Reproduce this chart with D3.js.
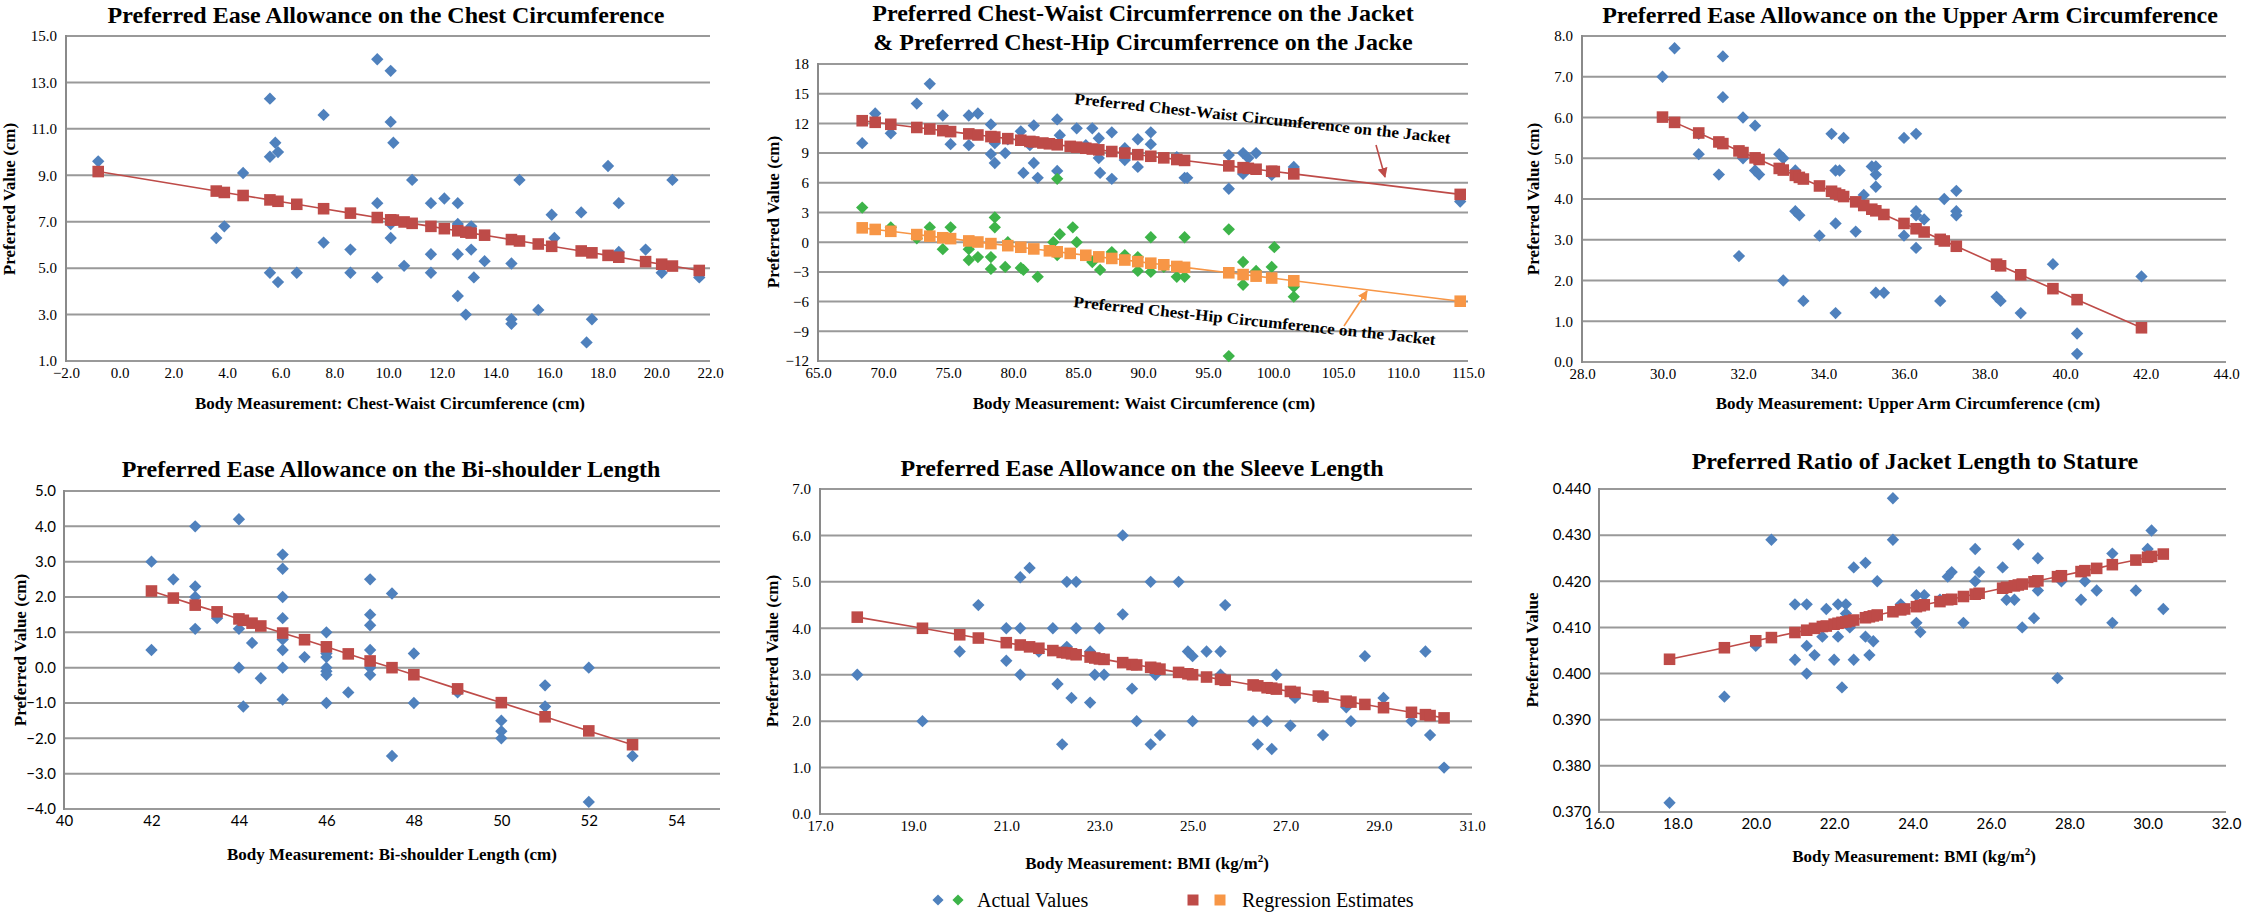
<!DOCTYPE html>
<html><head><meta charset="utf-8">
<script src="https://cdn.jsdelivr.net/npm/d3@7"></script>
<style>body{margin:0;background:#fff}</style>
</head><body><svg id="c" width="2244" height="912"></svg>
<script>
// ---------- DATA ----------
// Panel 1: chest-waist circumference vs preferred chest ease
const p1Actual = [[-0.8,9.6],[3.6,6.3],[3.9,6.8],[4.6,9.1],[5.6,12.3],[5.6,9.8],[5.6,4.8],[5.8,10.4],[5.9,10.0],[5.9,4.4],[6.6,4.8],[7.6,11.6],[7.6,6.1],[8.6,5.8],[8.6,4.8],[9.6,14.0],[9.6,7.8],[9.6,4.6],[10.1,13.5],[10.1,11.3],[10.2,10.4],[10.1,6.3],[10.1,6.9],[10.6,5.1],[10.9,8.8],[11.6,7.8],[11.6,5.6],[11.6,4.8],[12.1,8.0],[12.6,7.8],[12.6,6.9],[12.6,5.6],[12.6,3.8],[12.9,3.0],[13.1,6.8],[13.1,5.8],[13.2,4.6],[13.6,5.3],[14.6,5.2],[14.6,2.8],[14.6,2.6],[14.9,8.8],[15.6,3.2],[16.1,7.3],[16.2,6.3],[17.2,7.4],[17.4,1.8],[17.6,2.8],[18.2,9.4],[18.6,7.8],[18.6,5.7],[19.6,5.8],[20.2,4.8],[20.6,8.8],[21.6,4.6]];
const p1Reg = [[-0.8,9.16],[3.6,8.32],[3.9,8.26],[4.6,8.13],[5.6,7.94],[5.9,7.88],[6.6,7.75],[7.6,7.56],[8.6,7.37],[9.6,7.18],[10.1,7.08],[10.2,7.07],[10.6,6.99],[10.9,6.93],[11.6,6.80],[12.1,6.70],[12.6,6.61],[12.9,6.55],[13.1,6.51],[13.6,6.42],[14.6,6.23],[14.9,6.17],[15.6,6.04],[16.1,5.94],[17.2,5.74],[17.6,5.66],[18.2,5.55],[18.6,5.47],[19.6,5.28],[20.2,5.17],[20.6,5.09],[21.6,4.90]];
const p1XTicks = [-2,0,2,4,6,8,10,12,14,16,18,20,22];
const p1YTicks = [1,3,5,7,9,11,13,15];

// Panel 2: waist circumference vs chest-waist (blue/red) and chest-hip (green/orange)
const p2WaistActual = [[68.4,10.0],[69.4,13.0],[70.6,11.0],[72.6,14.0],[73.6,16.0],[74.6,12.8],[75.2,9.9],[76.6,12.8],[76.6,9.8],[77.3,13.0],[78.3,11.9],[78.3,8.9],[78.6,8.0],[78.6,10.0],[79.4,9.0],[79.6,10.4],[80.6,11.2],[80.8,7.0],[81.3,9.8],[81.6,11.8],[81.6,8.0],[81.9,6.5],[83.4,12.4],[83.4,7.2],[83.6,10.8],[84.9,11.5],[85.6,9.8],[86.1,11.5],[86.6,10.5],[86.6,8.5],[86.7,7.0],[87.6,11.1],[87.6,6.4],[88.6,8.3],[88.6,9.5],[89.6,10.4],[89.6,7.6],[90.6,11.1],[90.6,9.9],[92.6,8.6],[93.2,6.5],[93.4,6.5],[96.6,8.8],[96.6,5.4],[97.7,9.0],[97.7,6.9],[98.1,8.5],[98.7,9.0],[99.9,6.8],[101.6,7.6],[114.4,4.1]];
const p2WaistReg = [[68.4,12.27],[69.4,12.11],[70.6,11.91],[72.6,11.59],[73.6,11.43],[74.6,11.27],[75.2,11.17],[76.6,10.94],[77.3,10.83],[78.3,10.67],[78.6,10.62],[79.6,10.46],[80.6,10.30],[81.3,10.18],[81.6,10.13],[82.3,10.02],[82.8,9.94],[83.4,9.84],[84.4,9.68],[84.9,9.60],[85.6,9.49],[86.1,9.41],[86.6,9.33],[87.6,9.16],[88.6,9.00],[89.6,8.84],[90.6,8.68],[91.6,8.52],[92.6,8.35],[93.2,8.26],[96.6,7.71],[97.7,7.53],[98.1,7.46],[98.7,7.37],[99.9,7.17],[100.1,7.14],[101.6,6.90],[114.4,4.83]];
const p2HipActual = [[68.4,3.5],[70.6,1.5],[72.6,0.4],[73.6,1.5],[74.6,-0.7],[75.2,1.5],[76.6,-0.7],[76.6,-1.8],[77.3,-1.5],[78.3,-1.5],[78.3,-2.7],[78.6,2.5],[78.6,1.5],[79.4,-2.5],[79.6,0.0],[80.6,-2.6],[80.8,-2.8],[81.9,-3.5],[83.1,0.0],[83.4,6.4],[83.4,-1.3],[83.6,0.8],[84.6,1.5],[84.9,0.0],[86.1,-2.0],[86.7,-2.8],[87.6,-1.0],[88.6,-1.3],[89.6,-1.5],[89.6,-2.9],[90.6,-3.0],[90.6,0.5],[91.6,-2.5],[92.6,-3.5],[93.2,0.5],[93.2,-3.5],[96.6,1.3],[96.6,-11.5],[97.7,-2.0],[97.7,-4.3],[98.7,-2.9],[99.9,-2.5],[100.1,-0.5],[101.6,-4.5],[101.6,-5.5]];
const p2HipReg = [[68.4,1.45],[69.4,1.29],[70.6,1.10],[72.6,0.77],[73.6,0.61],[74.6,0.45],[75.2,0.36],[76.6,0.13],[77.3,0.02],[78.3,-0.14],[79.6,-0.35],[80.6,-0.51],[81.6,-0.68],[82.8,-0.87],[83.4,-0.97],[84.4,-1.13],[85.6,-1.32],[86.6,-1.48],[87.6,-1.64],[88.6,-1.80],[89.6,-1.96],[90.6,-2.12],[91.6,-2.28],[92.6,-2.45],[93.2,-2.54],[96.6,-3.09],[97.7,-3.27],[98.7,-3.43],[99.9,-3.62],[101.6,-3.90],[114.4,-5.96]];
const p2XTicks = [65,70,75,80,85,90,95,100,105,110,115];
const p2YTicks = [-12,-9,-6,-3,0,3,6,9,12,15,18];

// Panel 3: upper arm circumference
const p3Actual = [[30.0,7.0],[30.3,7.7],[30.9,5.1],[30.9,5.6],[31.4,4.6],[31.5,7.5],[31.5,6.5],[31.9,2.6],[32.0,6.0],[32.0,5.0],[32.3,5.8],[32.3,4.7],[32.4,4.6],[32.9,5.1],[33.0,5.0],[33.0,2.0],[33.3,4.7],[33.3,3.7],[33.4,3.6],[33.5,1.5],[33.9,3.1],[34.2,5.6],[34.3,4.7],[34.3,3.4],[34.3,1.2],[34.4,4.7],[34.5,5.5],[34.8,3.2],[35.0,4.1],[35.2,4.8],[35.3,4.8],[35.3,4.6],[35.3,4.3],[35.3,1.7],[35.5,1.7],[36.0,5.5],[36.0,3.1],[36.3,5.6],[36.3,3.7],[36.3,3.6],[36.3,2.8],[36.5,3.5],[36.9,1.5],[37.0,4.0],[37.3,4.2],[37.3,3.7],[37.3,3.6],[38.3,1.6],[38.4,1.5],[38.9,1.2],[39.7,2.4],[40.3,0.7],[40.3,0.2],[41.9,2.1]];
const p3Reg = [[30.0,6.01],[30.3,5.88],[30.9,5.62],[31.4,5.40],[31.5,5.36],[31.9,5.18],[32.0,5.14],[32.3,5.01],[32.4,4.97],[32.9,4.75],[33.0,4.71],[33.3,4.58],[33.4,4.53],[33.5,4.49],[33.9,4.32],[34.2,4.19],[34.3,4.14],[34.4,4.10],[34.5,4.06],[34.8,3.93],[35.0,3.84],[35.2,3.75],[35.3,3.71],[35.5,3.62],[36.0,3.40],[36.3,3.27],[36.5,3.19],[36.9,3.01],[37.0,2.97],[37.3,2.84],[38.3,2.40],[38.4,2.36],[38.9,2.14],[39.7,1.80],[40.3,1.53],[41.9,0.84]];
const p3XTicks = [28,30,32,34,36,38,40,42,44];
const p3YTicks = [0,1,2,3,4,5,6,7,8];

// Panel 4: bi-shoulder length
const p4Actual = [[42,3.0],[42,0.5],[42.5,2.5],[43,4.0],[43,2.3],[43,2.0],[43,1.1],[43.5,1.4],[44,4.2],[44,1.1],[44,0.0],[44.1,-1.1],[44.3,0.7],[44.5,-0.3],[45,3.2],[45,2.8],[45,2.0],[45,1.4],[45,0.8],[45,0.5],[45,0.0],[45,-0.9],[45.5,0.3],[46,1.0],[46,0.4],[46,0.3],[46,0.0],[46,-0.1],[46,-0.2],[46,-1.0],[46.5,-0.7],[47,2.5],[47,1.5],[47,1.2],[47,0.5],[47,0.0],[47,-0.2],[47.5,2.1],[47.5,-2.5],[48,0.4],[48,-1.0],[49,-0.7],[50,-1.5],[50,-1.8],[50,-2.0],[51,-0.5],[51,-1.1],[52,0.0],[52,-3.8],[53,-2.5]];
const p4Reg = [[42,2.17],[42.5,1.97],[43,1.77],[43.5,1.58],[44,1.38],[44.1,1.34],[44.3,1.26],[44.5,1.18],[45,0.98],[45.5,0.79],[46,0.59],[46.5,0.39],[47,0.19],[47.5,0.00],[48,-0.20],[49,-0.60],[50,-0.99],[51,-1.39],[52,-1.79],[53,-2.18]];
const p4XTicks = [40,42,44,46,48,50,52,54];
const p4YTicks = [-4,-3,-2,-1,0,1,2,3,4,5];

// Panel 5: BMI vs sleeve length ease
const p5Actual = [[17.8,3.0],[19.2,2.0],[20.0,3.5],[20.4,4.5],[21.0,4.0],[21.0,3.3],[21.3,5.1],[21.3,4.0],[21.3,3.0],[21.5,5.3],[21.7,3.5],[22.0,4.0],[22.1,2.8],[22.2,1.5],[22.3,5.0],[22.3,3.6],[22.4,2.5],[22.5,5.0],[22.5,4.0],[22.8,3.5],[22.8,2.4],[22.9,3.0],[23.0,4.0],[23.1,3.0],[23.5,6.0],[23.5,4.3],[23.7,2.7],[23.8,2.0],[24.1,5.0],[24.1,1.5],[24.2,3.0],[24.3,1.7],[24.7,5.0],[24.9,3.5],[25.0,3.4],[25.0,2.0],[25.3,3.5],[25.6,3.5],[25.6,3.0],[25.7,4.5],[26.3,2.0],[26.4,1.5],[26.6,2.0],[26.7,1.4],[26.8,3.0],[27.1,1.9],[27.2,2.5],[27.8,1.7],[28.3,2.3],[28.4,2.0],[28.7,3.4],[29.1,2.5],[29.7,2.0],[30.0,3.5],[30.1,1.7],[30.4,1.0]];
const p5Reg = [[17.8,4.24],[19.2,4.00],[20.0,3.86],[20.4,3.79],[21.0,3.69],[21.3,3.64],[21.5,3.60],[21.7,3.57],[22.0,3.52],[22.2,3.48],[22.3,3.47],[22.4,3.45],[22.5,3.43],[22.8,3.38],[22.9,3.36],[23.0,3.34],[23.1,3.33],[23.5,3.26],[23.7,3.22],[23.8,3.21],[24.1,3.16],[24.2,3.14],[24.3,3.12],[24.7,3.05],[24.9,3.02],[25.0,3.00],[25.3,2.95],[25.6,2.90],[25.7,2.88],[26.3,2.78],[26.4,2.76],[26.6,2.72],[26.7,2.71],[26.8,2.69],[27.1,2.64],[27.2,2.62],[27.7,2.54],[27.8,2.52],[28.3,2.43],[28.4,2.41],[28.7,2.36],[29.1,2.29],[29.7,2.19],[30.0,2.14],[30.1,2.12],[30.4,2.07]];
const p5XTicks = [17,19,21,23,25,27,29,31];
const p5YTicks = [0,1,2,3,4,5,6,7];

// Panel 6: BMI vs ratio of jacket length to stature
const p6Actual = [[17.8,0.372],[19.2,0.395],[20.0,0.406],[20.4,0.429],[21.0,0.415],[21.0,0.403],[21.3,0.415],[21.3,0.406],[21.3,0.400],[21.5,0.404],[21.7,0.408],[21.8,0.414],[22.0,0.403],[22.1,0.415],[22.1,0.408],[22.2,0.397],[22.3,0.415],[22.3,0.413],[22.4,0.410],[22.5,0.423],[22.5,0.403],[22.8,0.424],[22.8,0.408],[22.9,0.404],[23.0,0.407],[23.1,0.420],[23.5,0.438],[23.5,0.429],[23.7,0.415],[24.1,0.417],[24.1,0.411],[24.2,0.409],[24.3,0.417],[24.7,0.416],[24.9,0.421],[25.0,0.422],[25.3,0.411],[25.6,0.427],[25.6,0.420],[25.7,0.422],[26.3,0.423],[26.4,0.416],[26.6,0.416],[26.7,0.428],[26.8,0.410],[27.1,0.412],[27.2,0.425],[27.2,0.418],[27.7,0.399],[27.8,0.420],[28.3,0.416],[28.4,0.420],[28.7,0.418],[29.1,0.426],[29.1,0.411],[29.7,0.418],[30.0,0.427],[30.1,0.431],[30.4,0.414]];
const p6Reg = [[17.8,0.4031],[19.2,0.4056],[20.0,0.4071],[20.4,0.4078],[21.0,0.4089],[21.3,0.4094],[21.5,0.4098],[21.7,0.4102],[21.8,0.4103],[22.0,0.4107],[22.1,0.4109],[22.2,0.4111],[22.3,0.4112],[22.4,0.4114],[22.5,0.4116],[22.8,0.4121],[22.9,0.4123],[23.0,0.4125],[23.1,0.4127],[23.5,0.4134],[23.7,0.4138],[23.8,0.4140],[24.1,0.4145],[24.2,0.4147],[24.3,0.4149],[24.7,0.4156],[24.9,0.4160],[25.0,0.4161],[25.3,0.4167],[25.6,0.4172],[25.7,0.4174],[26.3,0.4185],[26.4,0.4187],[26.6,0.4190],[26.7,0.4192],[26.8,0.4194],[27.1,0.4199],[27.2,0.4201],[27.7,0.4210],[27.8,0.4212],[28.3,0.4221],[28.4,0.4223],[28.7,0.4228],[29.1,0.4236],[29.7,0.4246],[30.0,0.4252],[30.1,0.4254],[30.4,0.4259]];
const p6XTicks = [16,18,20,22,24,26,28,30,32];
const p6YTicks = [0.37,0.38,0.39,0.40,0.41,0.42,0.43,0.44];

const legendLabels = ["Actual Values", "Regression Estimates"];

// ---------- STYLE ----------
const BLUE = "#4F81BD", RED = "#BE4B48", GREEN = "#3DB449", ORANGE = "#F79646";
const SERIF = "'Liberation Serif','Times New Roman',serif";
const SANS = "Lato,'Liberation Sans',sans-serif";
const GRID = "#999999";

const svg = d3.select("#c");
svg.append("rect").attr("width", 2244).attr("height", 912).attr("fill", "#fff");

const diamond = d3.symbol(d3.symbolSquare, 76)();
const square = d3.symbol(d3.symbolSquare, 134)();

function drawPanel(cfg) {
  const g = svg.append("g");
  const x = d3.scaleLinear().domain(cfg.xDomain).range([cfg.left, cfg.right]);
  const y = d3.scaleLinear().domain(cfg.yDomain).range([cfg.bottom, cfg.top]);

  // horizontal gridlines
  g.append("g").selectAll("line").data(cfg.yTicks).join("line")
    .attr("x1", cfg.left).attr("x2", cfg.right)
    .attr("y1", d => y(d)).attr("y2", d => y(d))
    .attr("stroke", GRID).attr("stroke-width", 2);
  // vertical axis line
  g.append("line").attr("x1", cfg.left).attr("x2", cfg.left)
    .attr("y1", cfg.top - 1).attr("y2", cfg.bottom + 1)
    .attr("stroke", "#8a8a8a").attr("stroke-width", 2);

  // y axis labels
  const ya = g.append("g").attr("transform", `translate(${cfg.left},0)`)
    .call(d3.axisLeft(y).tickValues(cfg.yTicks).tickFormat(cfg.yFmt).tickSize(0).tickPadding(cfg.yPad || 9));
  ya.select(".domain").remove();
  ya.attr("font-family", cfg.tickFont).attr("font-size", cfg.tickSize || 15);
  ya.selectAll("text").attr("fill", "#000");

  // x axis labels
  const xa = g.append("g").attr("transform", `translate(0,${cfg.bottom})`)
    .call(d3.axisBottom(x).tickValues(cfg.xTicks).tickFormat(cfg.xFmt).tickSize(0).tickPadding(cfg.xPad || 6));
  xa.select(".domain").remove();
  xa.attr("font-family", cfg.tickFont).attr("font-size", cfg.tickSize || 15);
  xa.selectAll("text").attr("fill", "#000");

  // titles
  cfg.title.forEach((t, i) => {
    g.append("text").attr("x", cfg.titleX).attr("y", cfg.titleY + i * 29)
      .attr("text-anchor", "middle").attr("font-family", SERIF)
      .attr("font-weight", "bold").attr("font-size", 24).text(t);
  });
  // axis titles
  const xl = g.append("text").attr("x", cfg.xLabelX).attr("y", cfg.xLabelY)
    .attr("text-anchor", "middle").attr("font-family", SERIF)
    .attr("font-weight", "bold").attr("font-size", 17);
  if (cfg.bmi) {
    xl.append("tspan").text("Body Measurement: BMI (kg/m");
    xl.append("tspan").attr("dy", -7).attr("font-size", 11).text("2");
    xl.append("tspan").attr("dy", 7).text(")");
  } else xl.text(cfg.xLabel);
  g.append("text")
    .attr("transform", `translate(${cfg.yLabelX},${cfg.yLabelY}) rotate(-90)`)
    .attr("text-anchor", "middle").attr("dy", "0.35em").attr("font-family", SERIF)
    .attr("font-weight", "bold").attr("font-size", 17).text(cfg.yLabel);

  // regression lines
  const line = d3.line().x(d => x(d[0])).y(d => y(d[1]));
  cfg.series.forEach(s => {
    g.append("path").datum(s.reg).attr("d", line)
      .attr("fill", "none").attr("stroke", s.regColor).attr("stroke-width", 1.6);
  });
  // actual values (diamonds)
  cfg.series.forEach(s => {
    g.append("g").selectAll("path").data(s.actual).join("path")
      .attr("d", diamond)
      .attr("transform", d => `translate(${x(d[0])},${y(d[1])}) rotate(45)`)
      .attr("fill", s.actColor);
  });
  // regression estimates (squares)
  cfg.series.forEach(s => {
    g.append("g").selectAll("path").data(s.reg).join("path")
      .attr("d", square)
      .attr("transform", d => `translate(${x(d[0])},${y(d[1])})`)
      .attr("fill", s.regColor);
  });
  return {x, y, g};
}

const f1 = d3.format(".1f"), f0 = d3.format("d"), f3 = d3.format(".3f");

drawPanel({
  left: 66, right: 710, top: 36, bottom: 361,
  xDomain: [-2, 22], yDomain: [1, 15], xTicks: p1XTicks, yTicks: p1YTicks,
  xFmt: f1, yFmt: f1, tickFont: SERIF,
  title: ["Preferred Ease Allowance on the Chest Circumference"], titleX: 386, titleY: 23,
  xLabel: "Body Measurement: Chest-Waist Circumference (cm)", xLabelX: 390, xLabelY: 409,
  yLabel: "Preferred Value (cm)", yLabelX: 9, yLabelY: 199,
  series: [{actual: p1Actual, reg: p1Reg, actColor: BLUE, regColor: RED}]
});

drawPanel({
  left: 818, right: 1468, top: 64, bottom: 361,
  xDomain: [65, 115], yDomain: [-12, 18], xTicks: p2XTicks, yTicks: p2YTicks,
  xFmt: f1, yFmt: f0, tickFont: SERIF,
  title: ["Preferred Chest-Waist Circumferrence on the Jacket", "& Preferred Chest-Hip Circumferrence on the Jacke"],
  titleX: 1143, titleY: 21,
  xLabel: "Body Measurement: Waist Circumference (cm)", xLabelX: 1144, xLabelY: 409,
  yLabel: "Preferred Value (cm)", yLabelX: 773, yLabelY: 212,
  series: [
    {actual: p2WaistActual, reg: p2WaistReg, actColor: BLUE, regColor: RED},
    {actual: p2HipActual, reg: p2HipReg, actColor: GREEN, regColor: ORANGE}
  ]
});

drawPanel({
  left: 1582, right: 2226, top: 36, bottom: 362,
  xDomain: [28, 44], yDomain: [0, 8], xTicks: p3XTicks, yTicks: p3YTicks,
  xFmt: f1, yFmt: f1, tickFont: SERIF,
  title: ["Preferred Ease Allowance on the Upper Arm Circumference"], titleX: 1910, titleY: 23,
  xLabel: "Body Measurement: Upper Arm Circumference (cm)", xLabelX: 1908, xLabelY: 409,
  yLabel: "Preferred Value (cm)", yLabelX: 1533, yLabelY: 199,
  series: [{actual: p3Actual, reg: p3Reg, actColor: BLUE, regColor: RED}]
});

drawPanel({
  left: 64, right: 720, top: 491, bottom: 809,
  xDomain: [40, 55], yDomain: [-4, 5], xTicks: p4XTicks, yTicks: p4YTicks,
  xFmt: f0, yFmt: f1, tickFont: SANS, yPad: 8,
  title: ["Preferred Ease Allowance on the Bi-shoulder Length"], titleX: 391, titleY: 477,
  xLabel: "Body Measurement: Bi-shoulder Length (cm)", xLabelX: 392, xLabelY: 860,
  yLabel: "Preferred Value (cm)", yLabelX: 20, yLabelY: 650,
  series: [{actual: p4Actual, reg: p4Reg, actColor: BLUE, regColor: RED}]
});

drawPanel({
  left: 820, right: 1472, top: 489, bottom: 814,
  xDomain: [17, 31], yDomain: [0, 7], xTicks: p5XTicks, yTicks: p5YTicks,
  xFmt: f1, yFmt: f1, tickFont: SERIF,
  title: ["Preferred Ease Allowance on the Sleeve Length"], titleX: 1142, titleY: 476,
  bmi: true, xLabelX: 1147, xLabelY: 869,
  yLabel: "Preferred Value (cm)", yLabelX: 772, yLabelY: 651,
  series: [{actual: p5Actual, reg: p5Reg, actColor: BLUE, regColor: RED}]
});

drawPanel({
  left: 1599, right: 2226, top: 489, bottom: 812,
  xDomain: [16, 32], yDomain: [0.37, 0.44], xTicks: p6XTicks, yTicks: p6YTicks,
  xFmt: f1, yFmt: f3, tickFont: SANS, yPad: 8,
  title: ["Preferred Ratio of Jacket Length to Stature"], titleX: 1915, titleY: 469,
  bmi: true, xLabelX: 1914, xLabelY: 862,
  yLabel: "Preferred Value", yLabelX: 1532, yLabelY: 650,
  series: [{actual: p6Actual, reg: p6Reg, actColor: BLUE, regColor: RED}]
});

// ---------- Panel 2 annotations ----------
const defs = svg.append("defs");
[["arRed", RED], ["arOrange", ORANGE]].forEach(([id, c]) => {
  defs.append("marker").attr("id", id).attr("viewBox", "0 0 10 10")
    .attr("refX", 9).attr("refY", 5).attr("markerWidth", 10).attr("markerHeight", 10)
    .attr("markerUnits", "userSpaceOnUse").attr("orient", "auto")
    .append("path").attr("d", "M0,0 L10,5 L0,10 Z").attr("fill", c);
});
const ann = svg.append("g").attr("font-family", SERIF).attr("font-weight", "bold").attr("font-size", 16);
ann.append("text").attr("transform", "translate(1074,104) rotate(6)")
  .attr("textLength", 378).attr("lengthAdjust", "spacingAndGlyphs")
  .text("Preferred Chest-Waist Circumference on the Jacket");
ann.append("text").attr("transform", "translate(1073,307) rotate(6)")
  .attr("textLength", 364).attr("lengthAdjust", "spacingAndGlyphs")
  .text("Preferred Chest-Hip Circumference on the Jacket");
svg.append("line").attr("x1", 1376).attr("y1", 145).attr("x2", 1385).attr("y2", 177)
  .attr("stroke", RED).attr("stroke-width", 1.6).attr("marker-end", "url(#arRed)");
svg.append("line").attr("x1", 1344).attr("y1", 326).attr("x2", 1367).attr("y2", 291)
  .attr("stroke", ORANGE).attr("stroke-width", 1.6).attr("marker-end", "url(#arOrange)");

// ---------- Legend ----------
const lg = svg.append("g");
lg.append("path").attr("d", d3.symbol(d3.symbolSquare, 62)()).attr("transform", "translate(938,900) rotate(45)").attr("fill", BLUE);
lg.append("path").attr("d", d3.symbol(d3.symbolSquare, 62)()).attr("transform", "translate(958,900) rotate(45)").attr("fill", GREEN);
lg.append("text").attr("x", 977).attr("y", 907).attr("font-family", SERIF).attr("font-size", 20).text(legendLabels[0]);
lg.append("path").attr("d", d3.symbol(d3.symbolSquare, 121)()).attr("transform", "translate(1193,900)").attr("fill", RED);
lg.append("path").attr("d", d3.symbol(d3.symbolSquare, 121)()).attr("transform", "translate(1220,900)").attr("fill", ORANGE);
lg.append("text").attr("x", 1242).attr("y", 907).attr("font-family", SERIF).attr("font-size", 20).text(legendLabels[1]);
</script>
</body></html>
